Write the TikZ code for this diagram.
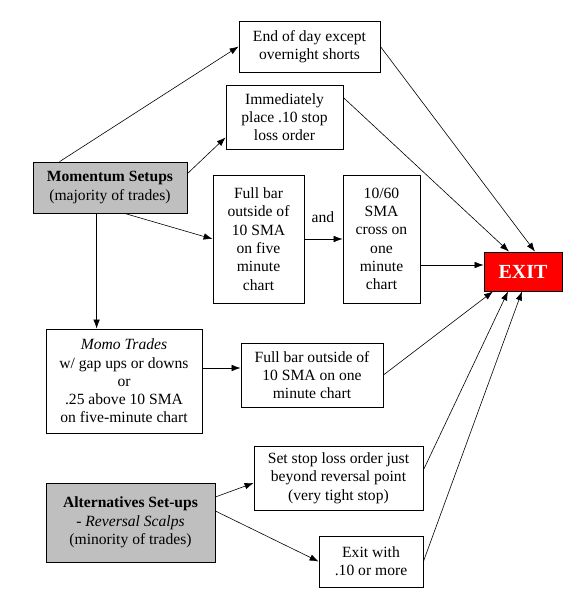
\documentclass[tikz,border=0pt]{standalone}
\usepackage{fontspec}
\setmainfont{Liberation Serif}
\usetikzlibrary{arrows.meta,calc}
\begin{document}
\begin{tikzpicture}[x=1pt,y=-1pt,
  box/.style={draw, line width=0.8pt, align=center, inner sep=0pt, font=\fontsize{15.6}{18.3}\selectfont},
  gbox/.style={box, fill=black!25},
  conn/.style={-{Latex[length=9pt,width=6.5pt]}, line width=0.6pt}]
\useasboundingbox (0,0) rectangle (576,607);
\node[box, minimum width=141pt, minimum height=51pt] (eod) at (309.5,46.5) {End of day except\\overnight shorts};
\node[box, minimum width=117pt, minimum height=64pt] (imm) at (284.5,117) {Immediately\\place .10 stop\\loss order};
\node[gbox, minimum width=154pt, minimum height=51pt] (mom) at (110,187.5) {\textbf{Momentum Setups}\\(majority of trades)};
\node[box, minimum width=91pt, minimum height=128pt] (fb5) at (258.5,239) {Full bar\\outside of\\10 SMA\\on five\\minute\\chart};
\node[box, minimum width=77pt, minimum height=128pt] (sma) at (381.5,239) {10/60\\SMA\\cross on\\one\\minute\\chart};
\node[draw, line width=0.8pt, fill=red, text=white, font=\fontsize{20}{22}\selectfont\bfseries, minimum width=78pt, minimum height=39pt, inner sep=0pt] (exit) at (523,271.5) {EXIT};
\node[box, minimum width=156pt, minimum height=104pt] (momo) at (124,381) {\textit{Momo Trades}\\w/ gap ups or downs\\or\\.25 above 10 SMA\\on five-minute chart};
\node[box, minimum width=142pt, minimum height=64pt] (fb1) at (312,375) {Full bar outside of\\10 SMA on one\\minute chart};
\node[box, minimum width=169pt, minimum height=64pt] (set) at (338.5,478) {Set stop loss order just\\beyond reversal point\\(very tight stop)};
\node[gbox, minimum width=169pt, minimum height=79pt] (alt) at (130.5,522.5) {\textbf{Alternatives Set-ups}\\- \textit{Reversal Scalps}\\(minority of trades)};
\node[box, minimum width=104pt, minimum height=51pt] (exw) at (371,561.5) {Exit with\\.10 or more};
\node[font=\fontsize{15.6}{18.3}\selectfont] (and) at (323,217) {and};
% connectors
\draw[conn] ($(mom.north west)+(27,0)$) -- (eod.west);
\draw[conn] ($(mom.north east)+(0,12)$) -- ($(imm.south west)+(0,-12)$);
\draw[conn] ($(mom.south west)+(92,0)$) -- (fb5.west);
\coordinate (mdown) at ($(mom.south west)+(64,0)$);
\draw[conn] (mdown) -- (mdown |- momo.north);
\draw[conn] (fb5.east) -- (sma.west);
\coordinate (smaout) at ($(sma.east)+(0,26)$);
\draw[conn] (smaout) -- (exit.west |- smaout);
\draw[conn] (eod.east) -- ($(exit.north)+(12,0)$);
\draw[conn] ($(imm.north east)+(0,13)$) -- ($(exit.north)+(-14,0)$);
\coordinate (momoout) at ($(momo.east)+(0,-13)$);
\draw[conn] (momoout) -- (fb1.west |- momoout);
\draw[conn] (fb1.east) -- ($(exit.south)+(-30,0)$);
\draw[conn] ($(set.east)+(0,-8)$) -- ($(exit.south)+(-15,0)$);
\draw[conn] (exw.east) -- ($(exit.south)+(-1,0)$);
\draw[conn] ($(alt.east)+(0,-25.5)$) -- ($(set.west)+(0,5)$);
\draw[conn] ($(alt.east)+(0,-11.5)$) -- (exw.west);
\end{tikzpicture}
\end{document}
